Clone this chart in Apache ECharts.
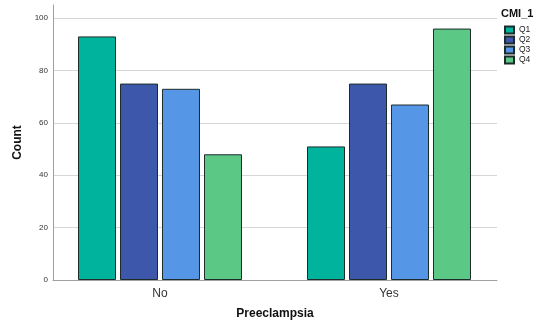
<!DOCTYPE html>
<html>
<head>
<meta charset="utf-8">
<script src="https://cdn.jsdelivr.net/npm/echarts@6/dist/echarts.min.js"></script>
<style>html,body{margin:0;padding:0;background:#fff}#c{width:537px;height:320px}</style>
</head>
<body>
<div id="c"></div>
<script>
const categories = ["No", "Yes"];
const seriesNames = ["Q1", "Q2", "Q3", "Q4"];
const q1 = [93, 51];
const q2 = [75, 75];
const q3 = [73, 67];
const q4 = [48, 96];
const colors = ["#00b39d", "#3d58aa", "#5597e6", "#5bc886"];

const values = [q1, q2, q3, q4];
const font = 'Liberation Sans';
const chart = echarts.init(document.getElementById('c'), null, {renderer: 'canvas'});
chart.setOption({
  animation: false,
  backgroundColor: '#fff',
  title: {
    text: 'CMI_1', left: 501, top: 8, padding: 0,
    textStyle: {fontFamily: font, fontSize: 11, fontWeight: 'bold', color: '#111'}
  },
  legend: {
    orient: 'vertical', left: 504, top: 25, padding: 0,
    itemWidth: 9, itemHeight: 7, itemGap: 0,
    icon: 'rect',
    textStyle: {fontFamily: font, fontSize: 8.5, color: '#222', lineHeight: 10},
    data: seriesNames
  },
  grid: [
    {left: 53, right: 40, top: 5, bottom: 40, containLabel: false, outerBoundsMode: 'none'},
    {left: 45.5, right: 33.5, top: 5, bottom: 40, containLabel: false, outerBoundsMode: 'none'}
  ],
  xAxis: [
    {
      gridIndex: 0, type: 'category', data: categories,
      name: 'Preeclampsia', nameLocation: 'middle', nameGap: 28,
      nameTextStyle: {fontFamily: font, fontSize: 12, fontWeight: 'bold', color: '#111'},
      axisLine: {lineStyle: {color: '#a0a0a0', width: 1}},
      axisTick: {show: false},
      axisLabel: {show: false}
    },
    {
      gridIndex: 1, type: 'category', data: categories,
      axisLine: {show: false},
      axisTick: {show: false},
      axisLabel: {fontFamily: font, fontSize: 12, color: '#333', margin: 8}
    }
  ],
  yAxis: [
    {
      gridIndex: 0, type: 'value', min: 0, max: 105, interval: 20,
      name: 'Count', nameLocation: 'middle', nameGap: 26,
      nameTextStyle: {fontFamily: font, fontSize: 12, fontWeight: 'bold', color: '#111'},
      axisLine: {show: true, lineStyle: {color: '#a0a0a0', width: 1}},
      axisTick: {show: false},
      axisLabel: {fontFamily: font, fontSize: 8, color: '#333', margin: 5, showMaxLabel: false},
      splitLine: {show: true, showMaxLine: false, lineStyle: {color: '#d6d6d6', width: 1}}
    },
    {
      gridIndex: 1, type: 'value', min: 0, max: 105, interval: 20, show: false,
      splitLine: {show: false}
    }
  ],
  series: seriesNames.map((n, i) => ({
    name: n, type: 'bar', data: values[i],
    xAxisIndex: 1, yAxisIndex: 1,
    barWidth: 38, barGap: '10.5%',
    itemStyle: {color: colors[i], borderColor: '#1e2b2b', borderWidth: 1}
  }))
});
</script>
</body>
</html>
